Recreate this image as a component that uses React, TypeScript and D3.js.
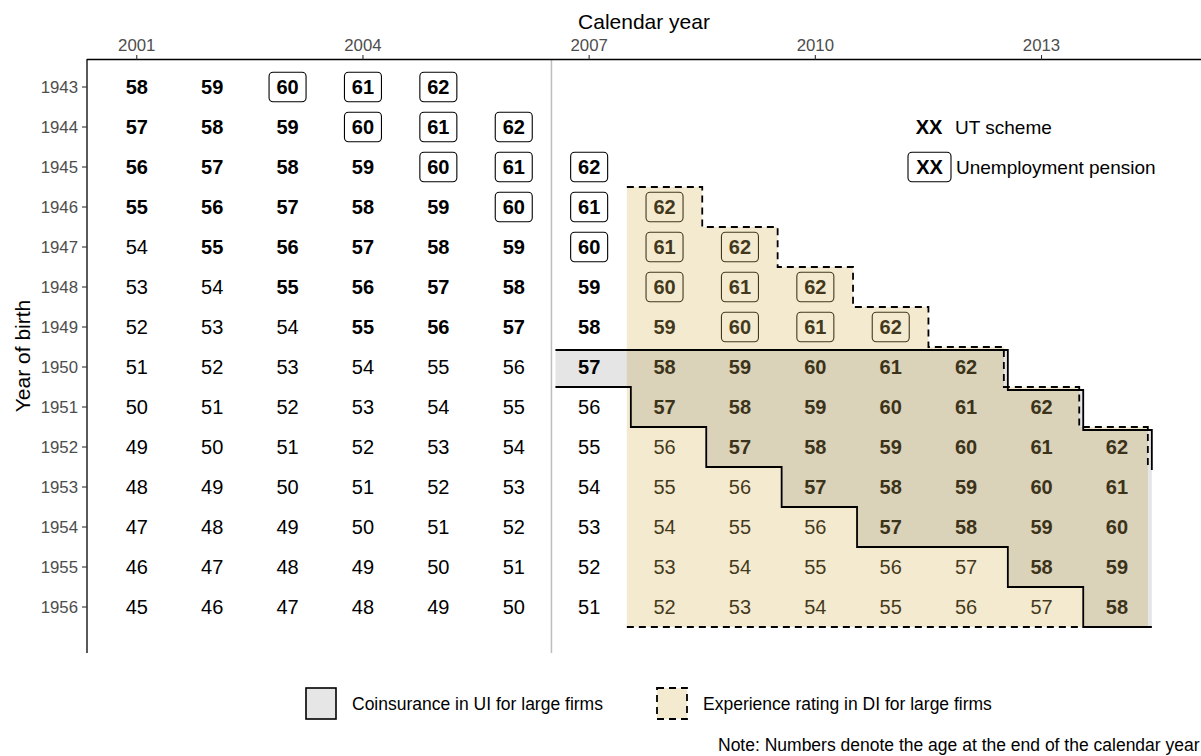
import React from "react";
import * as d3 from "d3";

// ---------- data ----------
const calendarYears = [2001, 2002, 2003, 2004, 2005, 2006, 2007, 2008, 2009, 2010, 2011, 2012, 2013, 2014];
const birthYears = [1943, 1944, 1945, 1946, 1947, 1948, 1949, 1950, 1951, 1952, 1953, 1954, 1955, 1956];
const xTicks = [2001, 2004, 2007, 2010, 2013];

// ages by row (birth year), starting in 2001
const ages: number[][] = [
  [58, 59, 60, 61, 62],
  [57, 58, 59, 60, 61, 62],
  [56, 57, 58, 59, 60, 61, 62],
  [55, 56, 57, 58, 59, 60, 61, 62],
  [54, 55, 56, 57, 58, 59, 60, 61, 62],
  [53, 54, 55, 56, 57, 58, 59, 60, 61, 62],
  [52, 53, 54, 55, 56, 57, 58, 59, 60, 61, 62],
  [51, 52, 53, 54, 55, 56, 57, 58, 59, 60, 61, 62],
  [50, 51, 52, 53, 54, 55, 56, 57, 58, 59, 60, 61, 62],
  [49, 50, 51, 52, 53, 54, 55, 56, 57, 58, 59, 60, 61, 62],
  [48, 49, 50, 51, 52, 53, 54, 55, 56, 57, 58, 59, 60, 61],
  [47, 48, 49, 50, 51, 52, 53, 54, 55, 56, 57, 58, 59, 60],
  [46, 47, 48, 49, 50, 51, 52, 53, 54, 55, 56, 57, 58, 59],
  [45, 46, 47, 48, 49, 50, 51, 52, 53, 54, 55, 56, 57, 58],
];

// scheme per cell: U = UT scheme (bold), P = unemployment pension (boxed), n = none
const schemes: string[] = [
  "UUPPP",
  "UUUPPP",
  "UUUUPPP",
  "UUUUUPPP",
  "nUUUUUPPP",
  "nnUUUUUPPP",
  "nnnUUUUUPPP",
  "nnnnnnUUUUUU",
  "nnnnnnnUUUUUU",
  "nnnnnnnnUUUUUU",
  "nnnnnnnnnUUUUU",
  "nnnnnnnnnnUUUU",
  "nnnnnnnnnnnnUU",
  "nnnnnnnnnnnnnU",
];

// Experience rating in DI for large firms (rows and column span)
const erRows = [1946, 1947, 1948, 1949, 1950, 1951, 1952, 1953, 1954, 1955, 1956];
const erStart = [2008, 2008, 2008, 2008, 2008, 2008, 2008, 2008, 2008, 2008, 2008];
const erEnd = [2008, 2009, 2010, 2011, 2012, 2013, 2014, 2014, 2014, 2014, 2014];

// Coinsurance in UI for large firms
const ciRows = [1950, 1951, 1952, 1953, 1954, 1955, 1956];
const ciStart = [2007, 2008, 2009, 2010, 2011, 2013, 2014];
const ciEnd = [2012, 2013, 2014, 2014, 2014, 2014, 2014];

const reformYear = 2006.5;

// ---------- layout ----------
const W = 1201;
const H = 756;
const FONT = "'Liberation Sans', Arial, Helvetica, sans-serif";
const x = d3.scaleLinear().domain([2000.34, 2015.115]).range([87, 1201]);
const y = d3.scaleLinear().domain([1942.3, 1957.15]).range([59, 653]);
const lastEdge = 2014.41;
const ciDx = 4;
const ciDyTop = 3;

type Pt = [number, number];

function topStair(rows: number[], start: number[], end: number[]): Pt[] {
  const maxEnd = d3.max(end) as number;
  const pts: Pt[] = [[start[0] - 0.5, rows[0] - 0.5]];
  for (let i = 0; i < rows.length; i++) {
    const xe = end[i] === maxEnd ? lastEdge : end[i] + 0.5;
    pts.push([xe, rows[i] - 0.5]);
    pts.push([xe, rows[i] + 0.5]);
    if (end[i] === maxEnd) break;
  }
  return pts;
}

function bottomStair(rows: number[], start: number[]): Pt[] {
  const pts: Pt[] = [[start[0] - 0.5, rows[0] + 0.5]];
  for (let i = 1; i < rows.length; i++) {
    pts.push([start[i] - 0.5, rows[i - 1] + 0.5]);
    pts.push([start[i] - 0.5, rows[i] + 0.5]);
  }
  pts.push([lastEdge, rows[rows.length - 1] + 0.5]);
  return pts;
}

const line = d3.line<Pt>().x((d) => d[0]).y((d) => d[1]);

export default function App() {
  // experience rating polygons
  const erTop = topStair(erRows, erStart, erEnd);
  const erTopPx: Pt[] = erTop.map((p) => [x(p[0]), y(p[1])]);
  const erBottomY = y(erRows[erRows.length - 1] + 0.5);
  const erFill: Pt[] = [
    ...erTopPx,
    [x(lastEdge), erBottomY],
    [x(erStart[0] - 0.5), erBottomY],
  ];

  // coinsurance polygons (nudged)
  const ciTopPx: Pt[] = topStair(ciRows, ciStart, ciEnd).map((p) => [x(p[0]) + ciDx, y(p[1]) + ciDyTop]);
  const ciBotPx: Pt[] = bottomStair(ciRows, ciStart).map((p) => [x(p[0]) + ciDx, y(p[1])]);
  const ciFill: Pt[] = [...ciTopPx, ...ciBotPx.slice().reverse()];

  const labelSize = 20;
  const tickSize = 16.8;
  const titleSize = 21;
  const legSize = 17.5;

  return (
    <svg width={W} height={H} style={{ position: "absolute", left: 0, top: 0, background: "#fff" }} fontFamily={FONT}>
      <rect x={0} y={0} width={W} height={H} fill="#ffffff" />
      {/* reform line */}
      <line x1={x(reformYear)} x2={x(reformYear)} y1={y.range()[0]} y2={y.range()[1]} stroke="#BEBEBE" strokeWidth={1.5} />

      {/* cell labels */}
      {birthYears.map((b, i) =>
        ages[i].map((a, j) => {
          const cx = x(calendarYears[j]);
          const cy = y(b);
          const s = schemes[i][j];
          return (
            <g key={`${b}-${j}`}>
              {s === "P" && (
                <rect x={cx - 18.5} y={cy - 14.75} width={37} height={29.5} rx={4} fill="#fff" stroke="#000" strokeWidth={1.1} />
              )}
              <text
                x={cx}
                y={cy}
                textAnchor="middle"
                dominantBaseline="central"
                fontSize={labelSize}
                fontWeight={s === "n" ? "normal" : "bold"}
                fill="#000"
              >
                {a}
              </text>
            </g>
          );
        })
      )}

      {/* overlays */}
      <path d={line(erFill) + "Z"} fill="rgb(217,187,100)" fillOpacity={0.3} stroke="none" />
      <path d={line(ciFill) + "Z"} fill="#000" fillOpacity={0.1} stroke="none" />

      {/* outlines */}
      <path d={line(erTopPx) || ""} fill="none" stroke="#000" strokeWidth={1.8} strokeDasharray="7,5" />
      <line x1={x(erStart[0] - 0.5)} x2={x(lastEdge)} y1={erBottomY} y2={erBottomY} stroke="#000" strokeWidth={1.8} strokeDasharray="7,5" />
      <path d={line(ciTopPx) || ""} fill="none" stroke="#000" strokeWidth={1.8} />
      <path d={line(ciBotPx) || ""} fill="none" stroke="#000" strokeWidth={1.8} />

      {/* top axis */}
      <line x1={x.range()[0]} x2={W} y1={59.5} y2={59.5} stroke="#000" strokeWidth={1.3} />
      {xTicks.map((t) => (
        <g key={t}>
          <line x1={x(t)} x2={x(t)} y1={55} y2={59.5} stroke="#333" strokeWidth={1.1} />
          <text x={x(t)} y={51} textAnchor="middle" fontSize={tickSize} fill="#4D4D4D">
            {t}
          </text>
        </g>
      ))}
      <text x={(x.range()[0] + W) / 2} y={29} textAnchor="middle" fontSize={titleSize} fill="#000">
        Calendar year
      </text>

      {/* left axis */}
      <line x1={87} x2={87} y1={59} y2={653} stroke="#000" strokeWidth={1.3} />
      {birthYears.map((b) => (
        <g key={b}>
          <line x1={82} x2={87} y1={y(b)} y2={y(b)} stroke="#333" strokeWidth={1.1} />
          <text x={78} y={y(b)} textAnchor="end" dominantBaseline="central" fontSize={tickSize} fill="#4D4D4D">
            {b}
          </text>
        </g>
      ))}
      <text
        transform={`translate(22,${(59 + 653) / 2}) rotate(-90)`}
        textAnchor="middle"
        dominantBaseline="central"
        fontSize={titleSize}
        fill="#000"
      >
        Year of birth
      </text>

      {/* top-right legend */}
      <text x={929} y={y(1944)} textAnchor="middle" dominantBaseline="central" fontSize={labelSize} fontWeight="bold">
        XX
      </text>
      <text x={955} y={y(1944)} dominantBaseline="central" fontSize={19}>
        UT scheme
      </text>
      <rect x={908} y={y(1945) - 14.75} width={43} height={29.5} rx={4} fill="#fff" stroke="#000" strokeWidth={1.1} />
      <text x={929.5} y={y(1945)} textAnchor="middle" dominantBaseline="central" fontSize={labelSize} fontWeight="bold">
        XX
      </text>
      <text x={956} y={y(1945)} dominantBaseline="central" fontSize={19}>
        Unemployment pension
      </text>

      {/* bottom legend */}
      <rect x={306} y={688} width={30} height={31} fill="#E6E6E6" stroke="#000" strokeWidth={1.6} />
      <text x={352} y={704} dominantBaseline="central" fontSize={legSize}>
        Coinsurance in UI for large firms
      </text>
      <rect x={657} y={688} width={30} height={31} fill="rgb(243,234,208)" stroke="#000" strokeWidth={1.8} strokeDasharray="7,5" />
      <text x={703} y={704} dominantBaseline="central" fontSize={legSize}>
        Experience rating in DI for large firms
      </text>

      <text x={718} y={745} dominantBaseline="central" fontSize={legSize}>
        Note: Numbers denote the age at the end of the calendar year
      </text>
    </svg>
  );
}
